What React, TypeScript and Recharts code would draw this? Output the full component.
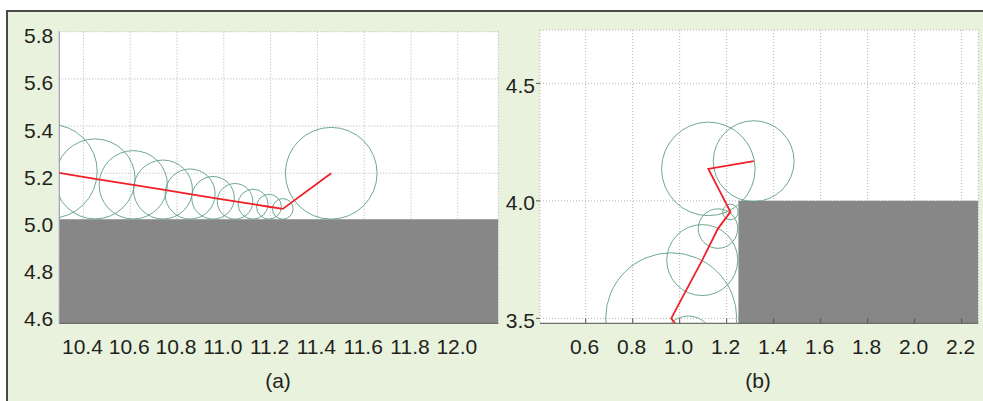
import React from 'react';
import { ComposedChart, Scatter, XAxis, YAxis, CartesianGrid, ReferenceArea } from 'recharts';

const FONT = '"Liberation Sans", Arial, Helvetica, sans-serif';

// ---------- Panel (a) ----------
const A_X_TICKS = [10.4, 10.6, 10.8, 11.0, 11.2, 11.4, 11.6, 11.8, 12.0];
const A_Y_TICKS = [4.6, 4.8, 5.0, 5.2, 5.4, 5.6, 5.8];
const A_X_DOMAIN: [number, number] = [10.297, 12.173];
const A_Y_DOMAIN: [number, number] = [4.564, 5.8];
const A_GROUND_TOP = 5.005;
const A_CX = [10.258, 10.45, 10.613, 10.74, 10.856, 10.954, 11.048, 11.125, 11.193, 11.252, 11.459];
const A_CY = [5.208, 5.176, 5.151, 5.131, 5.112, 5.096, 5.081, 5.069, 5.058, 5.049, 5.2];
const A_R = [0.201, 0.171, 0.146, 0.126, 0.107, 0.091, 0.076, 0.064, 0.053, 0.044, 0.196];

// ---------- Panel (b) ----------
const B_X_TICKS = [0.6, 0.8, 1.0, 1.2, 1.4, 1.6, 1.8, 2.0, 2.2];
const B_Y_TICKS = [3.5, 4.0, 4.5];
const B_X_DOMAIN: [number, number] = [0.4055, 2.271];
const B_Y_DOMAIN: [number, number] = [3.479, 4.727];
const B_WALL_X = 1.25;
const B_WALL_TOP = 4.0;
const B_CX = [1.037, 0.964, 1.096, 1.163, 1.216, 1.122, 1.315];
const B_CY = [3.404, 3.5, 3.748, 3.882, 3.953, 4.136, 4.169];
const B_R = [0.106, 0.279, 0.151, 0.084, 0.033, 0.199, 0.172];

const CIRCLE_COLOR = '#5e9e82';
const PATH_COLOR = '#f0202a';
const GROUND_COLOR = '#878787';
const GRID_COLOR = '#b4b4b4';
const TEXT_COLOR = '#231f20';
const FS = 21;

function circleSeries(cx: number[], cy: number[], r: number[]) {
  return cx.map((x, i) => [
    { x, y: cy[i] },
    { x: x + r[i], y: cy[i] },
  ]);
}
function pathSeries(cx: number[], cy: number[]) {
  return cx.map((x, i) => ({ x, y: cy[i] }));
}

const CircleOutline = (props: any) => {
  const pts = props.points;
  if (!pts || pts.length < 2) return <g />;
  const rad = Math.abs(pts[1].x - pts[0].x);
  return <circle cx={pts[0].x} cy={pts[0].y} r={rad} fill="none" stroke={CIRCLE_COLOR} strokeWidth={1} strokeOpacity={0.9} />;
};
const PathLine = (props: any) => {
  const pts = props.points || [];
  const d = pts.map((p: any, i: number) => `${i === 0 ? 'M' : 'L'}${p.x},${p.y}`).join(' ');
  return <path d={d} fill="none" stroke={PATH_COLOR} strokeWidth={1.8} />;
};
const NoDot = () => <g />;

const fmt = (v: number) => v.toFixed(1);

const XTick = (props: any) => {
  const { x, y, payload } = props;
  return (
    <text x={x - 1} y={y} dy="0.71em" textAnchor="middle" fill={TEXT_COLOR} style={{ fontSize: FS, fontFamily: FONT }}>
      {fmt(payload.value)}
    </text>
  );
};
const makeYTick = (shift: number) => (props: any) => {
  const { x, y, payload } = props;
  return (
    <text x={x} y={y + shift} dy="0.36em" textAnchor="end" fill={TEXT_COLOR} style={{ fontSize: FS, fontFamily: FONT }}>
      {fmt(payload.value)}
    </text>
  );
};
const YTickA = makeYTick(4);
const YTickB = makeYTick(2);

const A_CIRCLES = circleSeries(A_CX, A_CY, A_R);
const A_PATH = pathSeries(A_CX, A_CY);
const B_CIRCLES = circleSeries(B_CX, B_CY, B_R);
const B_PATH = pathSeries(B_CX, B_CY);

export default function App() {
  return (
    <div style={{ position: 'absolute', left: 0, top: 0, width: 983, height: 401, overflow: 'hidden', background: '#fff', fontFamily: FONT }}>
      <div
        style={{
          position: 'absolute',
          left: 6,
          top: 10,
          width: 1000,
          height: 420,
          border: '2px solid #4a4a4a',
          background: '#e8f2dc',
          boxSizing: 'border-box',
        }}
      />
      <div style={{ position: 'absolute', left: 0, top: 0 }}>
        <ComposedChart width={510} height={370} margin={{ top: 31.7, right: 11.7, bottom: 6.7, left: 0 }}>
          <CartesianGrid stroke={GRID_COLOR} strokeDasharray="1 2" fill="#ffffff" fillOpacity={1} />
          <XAxis
            type="number"
            dataKey="x"
            domain={A_X_DOMAIN}
            ticks={A_X_TICKS}
            interval={0}
            allowDataOverflow
            tick={XTick}
            tickLine={false}
            tickSize={0}
            tickMargin={16}
            height={40}
            axisLine={{ stroke: '#555555', strokeWidth: 1 }}
          />
          <YAxis
            type="number"
            dataKey="y"
            domain={A_Y_DOMAIN}
            ticks={A_Y_TICKS}
            interval={0}
            allowDataOverflow
            tick={YTickA}
            tickLine={false}
            tickSize={0}
            tickMargin={6}
            width={59.3}
            axisLine={{ stroke: '#9292bd', strokeWidth: 1 }}
          />
          <ReferenceArea
            x1={A_X_DOMAIN[0]}
            x2={A_X_DOMAIN[1]}
            y1={A_Y_DOMAIN[0]}
            y2={A_GROUND_TOP}
            fill={GROUND_COLOR}
            fillOpacity={1}
            stroke="none"
            ifOverflow="hidden"
          />
          {A_CIRCLES.map((c, i) => (
            <Scatter key={'ac' + i} data={c} line={CircleOutline} shape={NoDot} isAnimationActive={false} />
          ))}
          <Scatter data={A_PATH} line={PathLine} shape={NoDot} isAnimationActive={false} />
        </ComposedChart>
      </div>
      <div style={{ position: 'absolute', left: 500, top: 0 }}>
        <ComposedChart width={483} height={370} margin={{ top: 30, right: 4.7, bottom: 6.7, left: 0 }}>
          <CartesianGrid stroke={GRID_COLOR} strokeDasharray="1 2" fill="#ffffff" fillOpacity={1} />
          <XAxis
            type="number"
            dataKey="x"
            domain={B_X_DOMAIN}
            ticks={B_X_TICKS}
            interval={0}
            allowDataOverflow
            tick={XTick}
            tickLine={{ stroke: '#555555' }}
            tickSize={-5}
            tickMargin={21}
            height={40}
            axisLine={{ stroke: '#555555', strokeWidth: 1 }}
          />
          <YAxis
            type="number"
            dataKey="y"
            domain={B_Y_DOMAIN}
            ticks={B_Y_TICKS}
            interval={0}
            allowDataOverflow
            tick={YTickB}
            tickLine={{ stroke: '#555555' }}
            tickSize={4}
            tickMargin={1}
            width={40}
            axisLine={false}
          />
          <ReferenceArea
            x1={B_WALL_X}
            x2={B_X_DOMAIN[1]}
            y1={B_Y_DOMAIN[0]}
            y2={B_WALL_TOP}
            fill={GROUND_COLOR}
            fillOpacity={1}
            stroke="none"
            ifOverflow="hidden"
          />
          {B_CIRCLES.map((c, i) => (
            <Scatter key={'bc' + i} data={c} line={CircleOutline} shape={NoDot} isAnimationActive={false} />
          ))}
          <Scatter data={B_PATH} line={PathLine} shape={NoDot} isAnimationActive={false} />
        </ComposedChart>
      </div>
      <div style={{ position: 'absolute', left: 253, top: 368, width: 50, textAlign: 'center', fontSize: 21, color: TEXT_COLOR, lineHeight: '26px' }}>(a)</div>
      <div style={{ position: 'absolute', left: 733, top: 368, width: 50, textAlign: 'center', fontSize: 21, color: TEXT_COLOR, lineHeight: '26px' }}>(b)</div>
    </div>
  );
}
